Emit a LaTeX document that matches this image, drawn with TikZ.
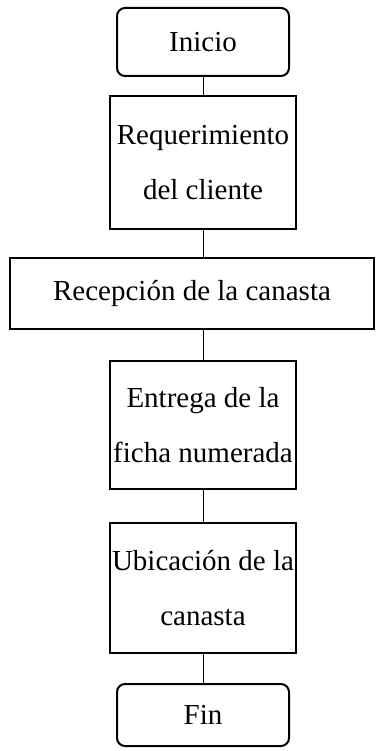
\documentclass[tikz,border=0pt]{standalone}
\usepackage{fontspec}
\setmainfont{Liberation Serif}
\begin{document}
\begin{tikzpicture}[x=1pt,y=-1pt,
  box/.style={draw, line width=2pt, align=center, inner sep=0pt, font=\fontsize{29}{55}\selectfont},
  term/.style={box, rounded corners=8pt},
  conn/.style={line width=1pt}]
\useasboundingbox (0,0) rectangle (384,751);
\node[term, minimum width=172pt, minimum height=68pt] (ini) at (203,42) {Inicio};
\node[box, minimum width=186pt, minimum height=133pt] (req) at (203,162.5) {Requerimiento\\del cliente};
\node[box, minimum width=364pt, minimum height=71pt] (rec) at (192,293.5) {Recepción de la canasta};
\node[box, minimum width=186pt, minimum height=128pt] (ent) at (203,425) {Entrega de la\\ficha numerada};
\node[box, minimum width=186pt, minimum height=130pt] (ubi) at (203,588) {Ubicación de la\\canasta};
\node[term, minimum width=172pt, minimum height=62pt] (fin) at (203,715) {Fin};
\draw[conn] (ini) -- (req);
\draw[conn] (req.south) -- (req.south |- rec.north);
\draw[conn] (ent.north |- rec.south) -- (ent.north);
\draw[conn] (ent) -- (ubi);
\draw[conn] (ubi) -- (fin);
\end{tikzpicture}
\end{document}
